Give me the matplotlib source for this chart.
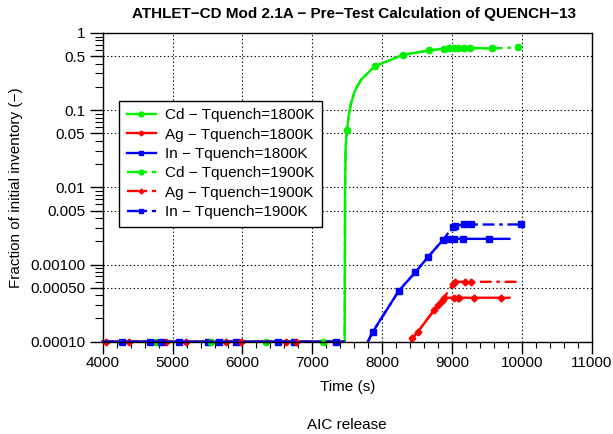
import numpy as np
import matplotlib
matplotlib.use("Agg")
import matplotlib.pyplot as plt
from matplotlib.lines import Line2D
from matplotlib.ticker import FixedLocator, NullFormatter

plt.rcParams['font.family'] = ['Liberation Sans', 'DejaVu Sans']
plt.rcParams['font.size'] = 11

nan = np.nan

# Cd (green)
cd18_t = [4000, 4762, 5543, 6343, 7152, 7462, 7468, 7476, 7495, 7520, 7555, 7610, 7700, 7890, 8295, 8666, 8880, 8961, 9080, 9261, 9571]
cd18_v = [1e-4, 1e-4, 1e-4, 1e-4, 1e-4, 1e-4, 0.01, 0.033, 0.055, 0.085, 0.125, 0.18, 0.25, 0.369, 0.52, 0.594, 0.625, 0.635, 0.64, 0.64, 0.63]
cd18_m = [1, 3, 8, 13, 14, 15, 16, 17, 18, 19, 20]

cd19_t = [4000, 4762, 5543, 6343, 7152, 7462, 7468, 7476, 7495, 7520, 7555, 7610, 7700, 7890, 8295, 8666, 8880, 9023, 9176, 9571, 9938]
cd19_v = [1e-4, 1e-4, 1e-4, 1e-4, 1e-4, 1e-4, 0.01, 0.033, 0.055, 0.085, 0.125, 0.18, 0.25, 0.369, 0.52, 0.594, 0.625, 0.64, 0.64, 0.63, 0.65]
cd19_m = [2, 4, 17, 18, 20]

# Ag (red)
ag18_t = [4000, 4047, 4904, 5762, 6619, 7462, nan, 8414, 8429, 8510, 8747, 8794, 8857, 8890, 9033, 9080, 9104, 9319, 9700, 9819]
ag18_v = [1e-4, 1e-4, 1e-4, 1e-4, 1e-4, 1e-4, nan, 1e-4, 1.1e-4, 1.35e-4, 2.6e-4, 2.98e-4, 3.4e-4, 3.71e-4, 3.71e-4, 3.71e-4, 3.71e-4, 3.71e-4, 3.71e-4, 3.71e-4]
ag18_m = [1, 2, 3, 4, 8, 9, 10, 11, 12, 13, 14, 15, 16, 17, 18]

ag19_t = [4000, 4381, 5190, 5986, 6771, 7462, nan, 8414, 8429, 8510, 8747, 8857, 9009, 9047, 9190, 9271, 9961]
ag19_v = [1e-4, 1e-4, 1e-4, 1e-4, 1e-4, 1e-4, nan, 1e-4, 1.1e-4, 1.35e-4, 2.6e-4, 3.4e-4, 5.57e-4, 5.97e-4, 5.97e-4, 5.97e-4, 5.97e-4]
ag19_m = [1, 2, 3, 4, 12, 13, 14, 15]

# In (blue)
in18_t = [4000, 4271, 4829, 5510, 5914, 6733, 7462, nan, 7794, 7866, 8237, 8471, 8651, 8866, 8937, 9033, 9151, 9533, 9819]
in18_v = [1e-4, 1e-4, 1e-4, 1e-4, 1e-4, 1e-4, 1e-4, nan, 1e-4, 1.35e-4, 4.57e-4, 7.9e-4, 1.24e-3, 2.07e-3, 2.15e-3, 2.15e-3, 2.15e-3, 2.15e-3, 2.15e-3]
in18_m = [1, 2, 3, 4, 5, 9, 10, 11, 12, 13, 14, 15, 16, 17]

in19_t = [4000, 4676, 5095, 5667, 6509, 7343, 7462, nan, 7794, 7866, 8237, 8471, 8651, 8866, 9009, 9047, 9176, 9271, 9986]
in19_v = [1e-4, 1e-4, 1e-4, 1e-4, 1e-4, 1e-4, 1e-4, nan, 1e-4, 1.35e-4, 4.57e-4, 7.9e-4, 1.24e-3, 2.07e-3, 3.07e-3, 3.2e-3, 3.3e-3, 3.3e-3, 3.3e-3]
in19_m = [1, 2, 3, 4, 5, 14, 15, 16, 17, 18]

labels = ['Cd − Tquench=1800K', 'Ag − Tquench=1800K', 'In − Tquench=1800K',
          'Cd − Tquench=1900K', 'Ag − Tquench=1900K', 'In − Tquench=1900K']

yticks = [1e-4, 5e-4, 1e-3, 5e-3, 1e-2, 5e-2, 0.1, 0.5, 1]
ytick_labels = ['0.00010', '0.00050', '0.00100', '0.005', '0.01', '0.05', '0.1', '0.5', '1']
xticks = [4000, 5000, 6000, 7000, 8000, 9000, 10000, 11000]

green = '#00f000'
red = '#ff0000'
blue = '#0000ff'
dashdot = (0, (5, 2, 1.5, 2))

series = [
    (cd18_t, cd18_v, cd18_m, green, '-', 'o', 4.5),
    (ag18_t, ag18_v, ag18_m, red, '-', 'D', 3.5),
    (in18_t, in18_v, in18_m, blue, '-', 's', 4.5),
    (cd19_t, cd19_v, cd19_m, green, dashdot, 'o', 4.5),
    (ag19_t, ag19_v, ag19_m, red, dashdot, 'D', 3.5),
    (in19_t, in19_v, in19_m, blue, dashdot, 's', 4.5),
]

fig = plt.figure(figsize=(6.13, 4.34), dpi=100)
ax = fig.add_axes([0.1675, 0.2127, 0.7982, 0.7113])

handles = []
for (t, v, m, c, ls, mk, ms), lab in zip(series, labels):
    ax.plot(t, v, color=c, linestyle=ls, linewidth=1.7, marker=mk, markersize=ms,
            markevery=m, clip_on=False)
    handles.append(Line2D([], [], color=c, linestyle=ls, linewidth=1.7, marker=mk,
                          markersize=ms - 1, label=lab))

ax.set_yscale('log')
ax.set_ylim(1e-4, 1)
ax.set_xlim(4000, 11000)

ax.yaxis.set_major_locator(FixedLocator(yticks))
ax.set_yticklabels(ytick_labels)
minors = [m * 10.0 ** e for e in range(-4, 0) for m in (2, 3, 4, 6, 7, 8, 9)]
ax.yaxis.set_minor_locator(FixedLocator(minors))
ax.yaxis.set_minor_formatter(NullFormatter())

ax.set_xticks(xticks)
ax.xaxis.set_minor_locator(FixedLocator(np.arange(4000, 11001, 200)))

ax.tick_params(axis='y', which='major', direction='out', length=9.5, width=1, labelsize=11, pad=3)
ax.tick_params(axis='y', which='minor', direction='out', length=6, width=0.8)
ax.tick_params(axis='x', which='major', direction='out', length=8.5, width=1, labelsize=11, pad=2)
ax.tick_params(axis='x', which='minor', direction='out', length=4.3, width=0.8)

ax.grid(True, which='major', linestyle=(0, (1.2, 2.2)), color='black', linewidth=0.8)
for s in ax.spines.values():
    s.set_linewidth(1)

ax.set_title('ATHLET−CD Mod 2.1A − Pre−Test Calculation of QUENCH−13',
             fontsize=11, fontweight='bold', pad=11, x=0.514)
ax.set_xlabel('Time (s)', fontsize=11, labelpad=7)
ax.set_ylabel('Fraction of initial inventory (−)', fontsize=11)
ax.yaxis.set_label_coords(-0.163, 0.5)

leg = ax.legend(handles=handles, loc='upper left', bbox_to_anchor=(0.0333, 0.781),
                fontsize=11, frameon=True, fancybox=False, borderpad=0.5,
                labelspacing=0.35, handlelength=1.9, handletextpad=0.6,
                borderaxespad=0)
leg.get_frame().set_edgecolor('black')
leg.get_frame().set_linewidth(1)
leg.get_frame().set_alpha(1)

fig.text(0.5665, 0.0207, 'AIC release', ha='center', va='center', fontsize=11)

fig.savefig('out.png', dpi=100)
